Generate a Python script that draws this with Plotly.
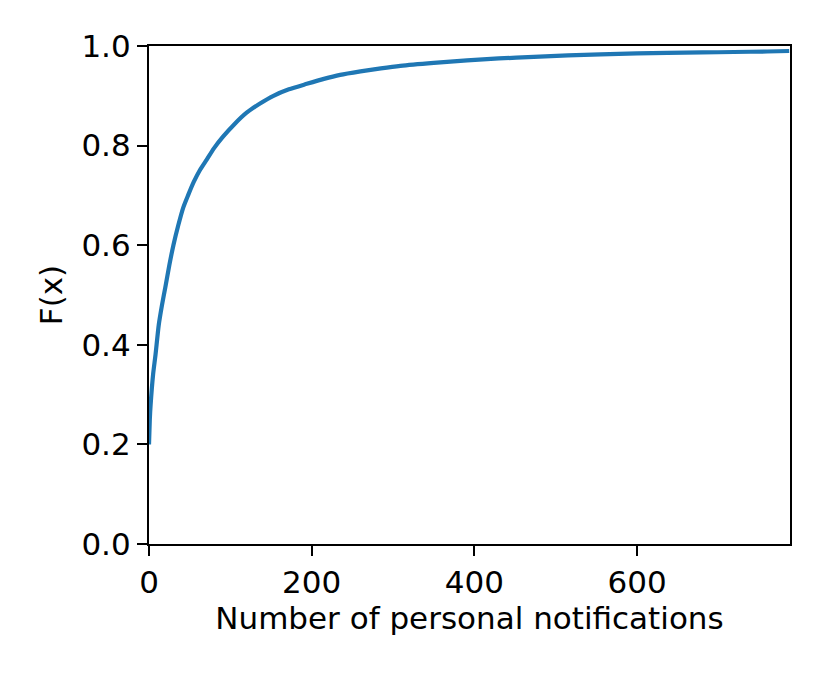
import plotly.graph_objects as go

x_notifications = [0, 1, 2, 5, 8, 12, 16, 20, 25, 30, 36, 42, 48, 55, 63, 71, 80, 91, 105, 120,
                   136, 153, 172, 194, 215, 235, 260, 285, 309, 350, 391, 430, 473, 515, 555,
                   600, 637, 680, 719, 760, 787]
cdf_values = [0.20, 0.25, 0.28, 0.34, 0.38, 0.44, 0.48, 0.515, 0.56, 0.60, 0.64, 0.675, 0.70,
              0.727, 0.752, 0.772, 0.795, 0.818, 0.843, 0.866, 0.884, 0.900, 0.913, 0.924,
              0.934, 0.942, 0.949, 0.955, 0.960, 0.966, 0.971, 0.975, 0.978, 0.981, 0.983,
              0.985, 0.986, 0.987, 0.988, 0.989, 0.990]
x_ticks = [0, 200, 400, 600]
y_ticks = [0.0, 0.2, 0.4, 0.6, 0.8, 1.0]
y_tick_labels = ["0.0", "0.2", "0.4", "0.6", "0.8", "1.0"]

font = dict(family="DejaVu Sans", size=31, color="black")

fig = go.Figure()
fig.add_trace(go.Scatter(x=x_notifications, y=cdf_values, mode="lines",
                         line=dict(color="#1f77b4", width=4.2, shape="spline", smoothing=0.6),
                         showlegend=False))

axis_common = dict(showline=True, linecolor="black", linewidth=2.2, mirror=True,
                   ticks="outside", ticklen=10, tickwidth=2.2, tickcolor="black",
                   showgrid=False, zeroline=False, tickfont=font)

fig.update_layout(
    width=832, height=674,
    margin=dict(l=141, r=50, t=38, b=138),
    paper_bgcolor="white", plot_bgcolor="white",
    font=font,
    xaxis=dict(range=[0, 788], tickvals=x_ticks,
               title=dict(text="Number of personal notifications", font=font, standoff=8),
               **axis_common),
    yaxis=dict(range=[0, 1], tickvals=y_ticks, ticktext=y_tick_labels,
               title=dict(text="F(x)", font=font, standoff=10),
               **axis_common),
)

fig.write_html("out.html")
